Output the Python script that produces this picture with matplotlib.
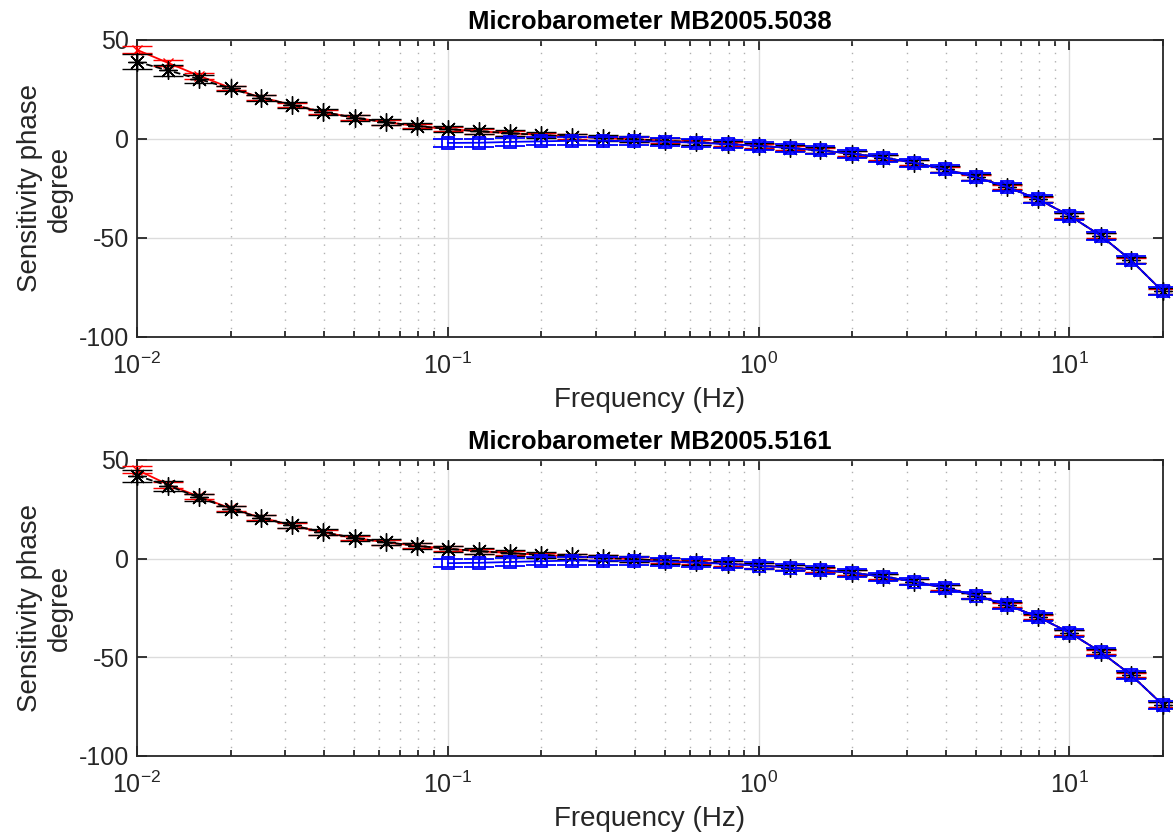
import numpy as np
import matplotlib
matplotlib.use('Agg')
import matplotlib.pyplot as plt
from matplotlib.ticker import FuncFormatter

plt.rcParams['font.family'] = ['Liberation Sans', 'DejaVu Sans']
plt.rcParams['mathtext.fontset'] = 'custom'
plt.rcParams['mathtext.rm'] = 'Liberation Sans'

# frequencies, 10 per decade from 0.01 Hz to 20 Hz
freq = [0.01, 0.0126, 0.0158, 0.02, 0.0251, 0.0316, 0.0398, 0.0501, 0.0631, 0.0794,
        0.1, 0.126, 0.158, 0.2, 0.251, 0.316, 0.398, 0.501, 0.631, 0.794,
        1.0, 1.26, 1.58, 2.0, 2.51, 3.16, 3.98, 5.01, 6.31, 7.94,
        10.0, 12.6, 15.8, 19.95]
freq_hi = freq[10:]

# sensor MB2005.5038
black1 = [39, 34.6, 30.3, 25.5, 20.8, 17.2, 13.6, 10.7, 8.5, 6.6,
          5.0, 3.9, 2.9, 2.0, 1.2, 0.5, -0.2, -0.9, -1.6, -2.5,
          -3.5, -4.5, -5.8, -7.4, -9.4, -12.0, -15.3, -19.3, -24.3, -30.5,
          -38.7, -48.8, -61.3, -77.0]
black1_err = [3.8, 2.8, 2.0, 1.5, 1.5, 1.5, 1.5, 1.5, 1.5, 1.5,
              1.5, 1.5, 1.5, 1.5, 1.5, 1.5, 1.5, 1.5, 1.5, 1.5,
              1.5, 1.5, 1.5, 1.5, 1.5, 1.5, 1.5, 1.5, 1.5, 1.5,
              1.5, 1.5, 1.5, 1.5]
red1 = [45, 38.4, 32.0, 25.8, 20.9, 17.2, 13.6, 10.7, 8.5, 6.6,
        5.0, 3.9, 2.9, 2.0, 1.2, 0.5, -0.2, -0.9, -1.6, -2.5,
        -3.5, -4.5, -5.8, -7.4, -9.4, -12.0, -15.3, -19.3, -24.3, -30.5,
        -38.7, -48.8, -61.3, -77.0]
red1_err = [1.8, 1.5, 1.5, 1.2, 1.2, 1.2, 1.2, 1.2, 1.2, 1.2,
            1.2, 1.2, 1.2, 1.2, 1.2, 1.2, 1.2, 1.2, 1.2, 1.2,
            1.2, 1.2, 1.2, 1.2, 1.2, 1.2, 1.2, 1.2, 1.2, 1.2,
            1.2, 1.2, 1.2, 1.2]
blue1 = [-2.0, -1.9, -1.5, -1.2, -0.9, -0.9, -1.1, -1.4, -1.9, -2.6,
         -3.5, -4.5, -5.8, -7.4, -9.4, -12.0, -15.3, -19.3, -24.3, -30.5,
         -38.7, -48.8, -61.3, -77.0]
blue1_err = [2.0] * 24

# sensor MB2005.5161
black2 = [42, 37.0, 31.0, 25.3, 20.6, 16.9, 13.3, 10.5, 8.3, 6.5,
          5.0, 3.8, 2.8, 1.9, 1.1, 0.4, -0.3, -1.0, -1.7, -2.5,
          -3.5, -4.5, -5.7, -7.2, -9.1, -11.6, -14.8, -18.7, -23.5, -29.6,
          -37.5, -47.3, -59.0, -74.0]
black2_err = [3.0, 2.5, 2.0, 1.5, 1.5, 1.5, 1.5, 1.5, 1.5, 1.5,
              1.5, 1.5, 1.5, 1.5, 1.5, 1.5, 1.5, 1.5, 1.5, 1.5,
              1.5, 1.5, 1.5, 1.5, 1.5, 1.5, 1.5, 1.5, 1.5, 1.5,
              1.5, 1.5, 1.5, 1.5]
red2 = [45, 37.5, 31.5, 25.5, 20.7, 16.9, 13.3, 10.5, 8.3, 6.5,
        5.0, 3.8, 2.8, 1.9, 1.1, 0.4, -0.3, -1.0, -1.7, -2.5,
        -3.5, -4.5, -5.7, -7.2, -9.1, -11.6, -14.8, -18.7, -23.5, -29.6,
        -37.5, -47.3, -59.0, -74.0]
red2_err = red1_err
blue2 = [-2.3, -2.1, -1.7, -1.3, -1.0, -1.0, -1.2, -1.5, -2.0, -2.7,
         -3.5, -4.5, -5.7, -7.2, -9.1, -11.6, -14.8, -18.7, -23.5, -29.6,
         -37.5, -47.3, -59.0, -74.0]
blue2_err = [2.0] * 24

titles = ['Microbarometer MB2005.5038', 'Microbarometer MB2005.5161']
txt = '#262626'


def dec_fmt(x, pos):
    e = int(round(np.log10(x)))
    return r'$\mathregular{10^{%s}}$' % ('-' + str(-e) if e < 0 else str(e))


fig = plt.figure(figsize=(11.73, 8.36), dpi=100)
ax1 = fig.add_axes([0.1168, 0.5969, 0.8747, 0.3553])
ax2 = fig.add_axes([0.1168, 0.0957, 0.8747, 0.3541])

star = (8, 2, 0)
sets = [(ax1, black1, black1_err, red1, red1_err, blue1, blue1_err, titles[0]),
        (ax2, black2, black2_err, red2, red2_err, blue2, blue2_err, titles[1])]

for ax, bk, bke, rd, rde, bl, ble, ttl in sets:
    r = ax.errorbar(freq, rd, yerr=rde, color='red', marker='x', markersize=7,
                    linewidth=1.3, capsize=11, elinewidth=1.3, zorder=3)
    k = ax.errorbar(freq, bk, yerr=bke, color='black', marker=star, markersize=13,
                    linewidth=1.3, linestyle='--', capsize=11, elinewidth=1.3, zorder=4)
    b = ax.errorbar(freq_hi, bl, yerr=ble, color='blue', marker='s', markersize=8,
                    markerfacecolor='none', markeredgewidth=1.3, linewidth=1.3,
                    capsize=11, elinewidth=1.3, zorder=5)
    for cont in (r, k, b):
        for art in cont.get_children():
            art.set_clip_on(False)

    ax.set_xscale('log')
    ax.set_xlim(0.01, 20)
    ax.set_ylim(-100, 50)
    ax.set_yticks([-100, -50, 0, 50])
    ax.set_yticklabels(['-100', '-50', '0', '50'])
    ax.xaxis.set_major_formatter(FuncFormatter(dec_fmt))
    ax.grid(True, which='major', color='#dcdcdc', linewidth=1.0)
    ax.grid(True, which='minor', axis='x', color='#b0b0b0', linestyle=(0, (1, 5)), linewidth=1.0)
    ax.set_axisbelow(True)
    ax.tick_params(which='both', direction='in', top=True, right=True, colors=txt,
                   labelsize=18, width=1.3)
    ax.tick_params(which='major', length=7)
    ax.tick_params(which='minor', length=4)
    ax.tick_params(axis='x', pad=11)
    ax.tick_params(axis='y', pad=6)
    for s in ax.spines.values():
        s.set_color(txt)
        s.set_linewidth(1.3)
    ax.set_xlabel('Frequency (Hz)', fontsize=20, color=txt, labelpad=6)
    ax.set_ylabel('Sensitivity phase\ndegree', fontsize=20, color=txt, labelpad=4)
    ax.set_title(ttl, fontsize=18.5, fontweight='bold', color='black', pad=8)

fig.savefig('out.png', dpi=100)
